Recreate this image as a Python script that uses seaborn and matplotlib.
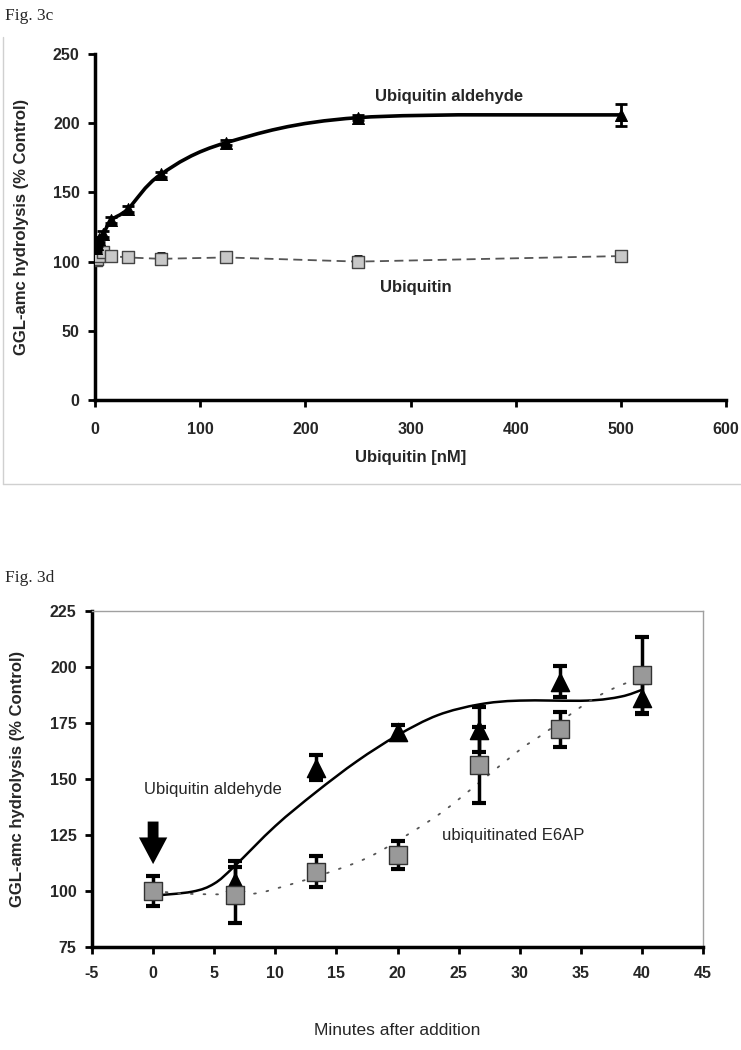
import numpy as np
import pandas as pd
import matplotlib.pyplot as plt
import seaborn as sns
from matplotlib.lines import Line2D
from matplotlib.path import Path
from matplotlib.patches import PathPatch
from matplotlib.transforms import IdentityTransform

# ---- Fig. 3c : GGL-amc hydrolysis vs ubiquitin concentration ----
conc_nm = [0.98, 1.95, 3.9, 7.8, 15.6, 31.25, 62.5, 125, 250, 500]
ub_ald = [110, 113, 116, 120, 130, 138, 163, 186, 204, 206]
ub_ald_err = [2, 2, 2, 2, 2, 2, 2, 2, 2, 8]
ub = [101, 102, 104, 107, 104, 103, 102, 103, 100, 104]
ub_err = [2, 2, 2, 2, 2, 2, 4, 3, 4, 2]
c_xticks = [0, 100, 200, 300, 400, 500, 600]
c_yticks = [0, 50, 100, 150, 200, 250]

# ---- Fig. 3d : time course after addition ----
minutes = [0, 6.67, 13.33, 20, 26.67, 33.33, 40]
ald_t = [6.67, 13.33, 20, 26.67, 33.33, 40]
ald_val = [104, 155, 171, 172, 193.5, 186]
ald_err = [9.5, 5.5, 3, 10, 7, 7]
e6ap_val = [100, 98.4, 108.6, 115.9, 156.3, 172.1, 196.3]
e6ap_err = [6.5, 12.5, 7, 6.3, 17, 8, 17]
# fitted curves
fit_t = [0, 3.2, 5, 6.65, 10, 13.3, 16.7, 20, 23.3, 26.7, 30, 35.5, 38.3, 40]
fit_ald = [97.9, 99.7, 103.3, 111, 129, 144, 158, 169.5, 178.5, 183.3, 185, 185, 186.8, 189.8]
trend_t = [0, 3.2, 7.9, 10, 14, 17.6, 20.9, 23.7, 26.6, 30, 31.9, 35.5, 37.7, 40]
trend_e6ap = [100, 98.7, 98.7, 101, 107.6, 115, 125.4, 135.4, 148, 163, 170, 184, 190.5, 195.5]
d_xticks = list(range(-5, 50, 5))
d_yticks = [75, 100, 125, 150, 175, 200, 225]


def smooth_line(ax, xs, ys, **kw):
    # Excel-style smoothed line: Catmull-Rom through the points, in display space
    pts = ax.transData.transform(np.column_stack([xs, ys]))
    verts, codes = [pts[0]], [Path.MOVETO]
    n = len(pts)
    for i in range(n - 1):
        p0 = pts[i - 1] if i > 0 else pts[i]
        p1, p2 = pts[i], pts[i + 1]
        p3 = pts[i + 2] if i + 2 < n else pts[i + 1]
        verts += [p1 + (p2 - p0) / 6, p2 - (p3 - p1) / 6, p2]
        codes += [Path.CURVE4] * 3
    patch = PathPatch(Path(verts, codes), facecolor='none', transform=IdentityTransform(),
                      capstyle='round', joinstyle='round', **kw)
    patch.set_clip_on(False)
    ax.add_artist(patch)


sns.set_style('white')
plt.rcParams['font.family'] = ['Liberation Sans', 'DejaVu Sans']

W, H = 741, 1050
fig = plt.figure(figsize=(W / 100, H / 100), dpi=100)
ax1 = fig.add_axes([95 / W, 1 - 400 / H, (726 - 95) / W, (400 - 54) / H])
ax2 = fig.add_axes([92 / W, 1 - 947 / H, (703 - 92) / W, (947 - 611) / H])

serif = ['Liberation Serif', 'DejaVu Serif']
fig.text(5 / W, 1 - 16 / H, 'Fig. 3c', family=serif, fontsize=12.5, va='center')
fig.text(5 / W, 1 - 578 / H, 'Fig. 3d', family=serif, fontsize=12.5, va='center')

# light outer frame of the first chart
fig.add_artist(Line2D([3 / W, 3 / W], [1 - 37 / H, 1 - 484 / H], color='#d0d0d0', lw=1,
                      transform=fig.transFigure))
fig.add_artist(Line2D([3 / W, 1], [1 - 484 / H, 1 - 484 / H], color='#d0d0d0', lw=1,
                      transform=fig.transFigure))

# ---------------- top chart ----------------
ax1.set_xlim(0, 600)
ax1.set_ylim(0, 250)
df_c = pd.DataFrame({'conc': conc_nm, 'ald': ub_ald, 'ub': ub})
ax1.errorbar(conc_nm, ub, yerr=ub_err, fmt='none', ecolor='black', elinewidth=2,
             capsize=3, capthick=2, zorder=2)
sns.lineplot(data=df_c, x='conc', y='ub', ax=ax1, color='#555555', lw=1.3,
             linestyle=(0, (5, 3)), zorder=2)
sns.scatterplot(data=df_c, x='conc', y='ub', ax=ax1, marker='s', s=80,
                color='#c8c8c8', edgecolor='#444444', linewidth=1, zorder=3)
ax1.errorbar(conc_nm, ub_ald, yerr=ub_ald_err, fmt='none', ecolor='black', elinewidth=2,
             capsize=4, capthick=2, zorder=4)
smooth_line(ax1, conc_nm, ub_ald, edgecolor='black', lw=2.6, zorder=4)
sns.scatterplot(data=df_c, x='conc', y='ald', ax=ax1, marker='^', s=75,
                color='black', edgecolor='black', zorder=5)

ax1.set_xlim(0, 600)
ax1.set_ylim(0, 250)
ax1.set_xticks(c_xticks)
ax1.set_yticks(c_yticks)
ax1.set_xticklabels([str(v) for v in c_xticks], fontweight='bold', fontsize=11.5)
ax1.set_yticklabels([str(v) for v in c_yticks], fontweight='bold', fontsize=11.5)
ax1.set_xlabel('Ubiquitin [nM]', fontweight='bold', fontsize=12)
ax1.set_ylabel('GGL-amc hydrolysis (% Control)', fontweight='bold', fontsize=12)
ax1.xaxis.set_label_coords(0.5, -0.145)
ax1.yaxis.set_label_coords(-0.105, 0.5)
ax1.text(337, 219, 'Ubiquitin aldehyde', fontweight='bold', fontsize=12,
         ha='center', va='center')
ax1.text(271, 81, 'Ubiquitin', fontweight='bold', fontsize=12, ha='left', va='center')
for s in ['top', 'right']:
    ax1.spines[s].set_visible(False)
for s in ['left', 'bottom']:
    ax1.spines[s].set_color('black')
    ax1.spines[s].set_linewidth(2.5)
ax1.tick_params(direction='out', length=5, width=2, color='black', left=True, bottom=True)
ax1.tick_params(axis='x', pad=11)
ax1.tick_params(axis='y', pad=6)

# ---------------- bottom chart ----------------
ax2.set_xlim(-5, 45)
ax2.set_ylim(75, 225)
smooth_line(ax2, fit_t, fit_ald, edgecolor='black', lw=1.8, zorder=2)
smooth_line(ax2, trend_t, trend_e6ap, edgecolor='#555555', lw=1.3,
            linestyle=(0, (1, 6)), zorder=2)

ax2.errorbar(ald_t, ald_val, yerr=ald_err, fmt='none', ecolor='black', elinewidth=2.5,
             capsize=5, capthick=3, zorder=3)
sns.scatterplot(x=ald_t, y=ald_val, ax=ax2, marker='^', s=170, color='black',
                edgecolor='black', zorder=4)
ax2.errorbar(minutes, e6ap_val, yerr=e6ap_err, fmt='none', ecolor='black', elinewidth=2.5,
             capsize=5, capthick=3, zorder=3)
sns.scatterplot(x=minutes, y=e6ap_val, ax=ax2, marker='s', s=170, color='#999999',
                edgecolor='#333333', linewidth=1, zorder=5)

# addition arrow
ax2.annotate('', xy=(0, 112), xytext=(0, 131),
             arrowprops=dict(arrowstyle='simple,head_width=1.7,head_length=1.6,tail_width=0.65',
                             color='black', lw=0, shrinkA=0, shrinkB=0, mutation_scale=12))

ax2.text(4.9, 145.3, 'Ubiquitin aldehyde', fontsize=12, ha='center', va='center')
ax2.text(29.5, 124.7, 'ubiquitinated E6AP', fontsize=12, ha='center', va='center')

ax2.set_xlim(-5, 45)
ax2.set_ylim(75, 225)
ax2.set_xticks(d_xticks)
ax2.set_yticks(d_yticks)
ax2.set_xticklabels([str(v) for v in d_xticks], fontweight='bold', fontsize=11.5)
ax2.set_yticklabels([str(v) for v in d_yticks], fontweight='bold', fontsize=11.5)
ax2.set_xlabel('Minutes after addition', fontsize=12.5)
ax2.set_ylabel('GGL-amc hydrolysis (% Control)', fontweight='bold', fontsize=12)
ax2.xaxis.set_label_coords(0.5, -0.225)
ax2.yaxis.set_label_coords(-0.11, 0.5)
for s in ['top', 'right']:
    ax2.spines[s].set_color('#a0a0a0')
    ax2.spines[s].set_linewidth(1)
for s in ['left', 'bottom']:
    ax2.spines[s].set_color('black')
    ax2.spines[s].set_linewidth(2.5)
ax2.tick_params(direction='out', length=5, width=2, color='black', left=True, bottom=True)
ax2.tick_params(axis='x', pad=9)
ax2.tick_params(axis='y', pad=6)

fig.savefig('out.png', dpi=100)
